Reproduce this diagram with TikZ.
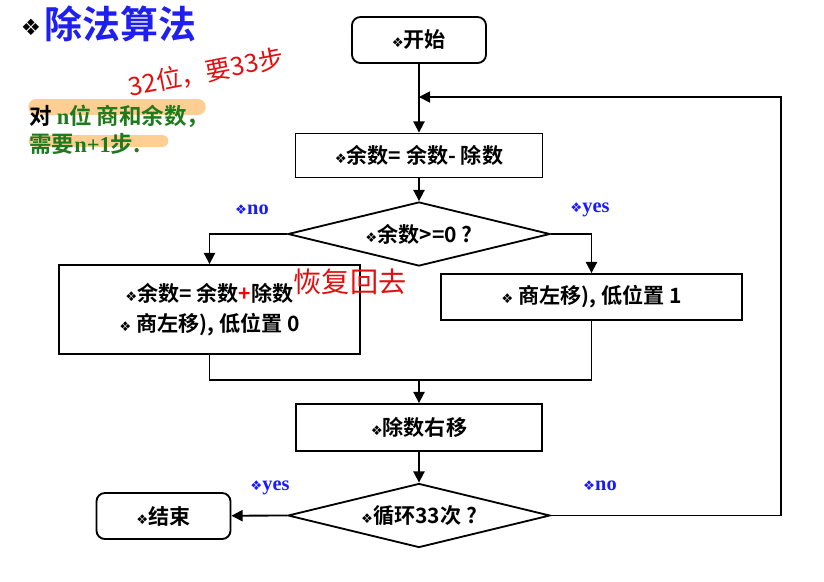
\documentclass[tikz,border=0pt]{standalone}
\usepackage{fontspec}
\usepackage{xcolor}
\usepackage{tikz}
\usetikzlibrary{arrows.meta,positioning,shapes.geometric}
\setmainfont{Liberation Sans}
\newfontfamily\cjk[BoldFont={Noto Sans CJK SC Bold}]{Noto Sans CJK SC}
\newfontfamily\sym{DejaVu Sans}
\newfontfamily\tnr{Liberation Serif}
\definecolor{ttl}{HTML}{1F1FF0}
\definecolor{yn}{HTML}{1A1AFF}
\definecolor{grn}{HTML}{1E7A1E}
\definecolor{hand}{HTML}{E01010}
\definecolor{hilite}{HTML}{FFBE6F}
\newcommand{\orn}{{\sym\fontsize{9.5}{9.5}\selectfont ❖}}
\tikzset{
  txt/.style={font=\cjk\bfseries\fontsize{15}{21}\selectfont,align=center,inner sep=0pt},
  term/.style={txt,draw,rounded corners=6pt,line width=1.3pt,minimum width=3.35cm,minimum height=1.15cm},
  proc/.style={txt,draw,line width=1.3pt,minimum height=1.1cm},
  dec/.style={txt,diamond,aspect=4,draw,line width=1.3pt,minimum width=6.55cm,minimum height=1.6cm},
  arr/.style={-{Triangle[length=2.8mm,width=2.8mm]},line width=1.3pt},
  lin/.style={line width=1.3pt},
  lbl/.style={font=\tnr\bfseries\fontsize{14.5}{14.5}\selectfont,text=yn,inner sep=0pt},
  scrawl/.style={font=\cjk\fontsize{18}{18}\selectfont,text=hand,inner sep=0pt},
  hl/.style={line cap=round,draw=hilite,opacity=0.75},
  note/.style={font=\cjk\bfseries\fontsize{16}{19}\selectfont,inner sep=0pt,anchor=west}}
\begin{document}
\begin{tikzpicture}[x=0.025cm,y=-0.025cm]
\useasboundingbox (0,0) rectangle (824,581);
% title and side note
\node[inner sep=0pt] (mark) at (31,27) {\sym\fontsize{16}{16}\selectfont ❖};
\node[anchor=west,inner sep=0pt,font=\cjk\bfseries\fontsize{27}{27}\selectfont,text=ttl] (title) at (44,24) {除法算法};
\draw[hl,line width=11pt] (36,107) -- (198,107);
\draw[hl,line width=9pt] (35,141) -- (162,141);
\node[note] (note1) at (29,116) {对 \textcolor{grn}{{\tnr n}位 商和余数，}};
\node[note,text=grn] (note2) at (29,144) {需要{\tnr n+1}步.};
\node[scrawl,rotate=11] (hw1) at (206,72) {32位，要33步};
% flow
\node[term] (start) at (419,40) {\orn{}开始};
\node[proc,minimum width=6.175cm] (sub) at (419,155.5) {\orn{}余数= 余数- 除数};
\node[dec] (test) at (419,234) {\orn{}余数>=0 ?};
\node[proc,minimum width=7.525cm,minimum height=2.225cm] (restore) at (209.5,309.5)
  {\orn{}余数= 余数\textcolor{red}{+}除数\\\orn{}\ 商左移), 低位置 0};
\node[proc,minimum width=7.525cm,minimum height=1.15cm] (shiftq) at (591.5,297) {\orn{}\ 商左移), 低位置 1};
\node[proc,minimum width=6.15cm,minimum height=1.175cm] (shiftd) at (419,427.5) {\orn{}除数右移};
\node[dec] (loop) at (419,515.5) {\orn{}循环33次 ?};
\node[term] (finish) at (163.5,516) {\orn{}结束};
\node[scrawl,font=\cjk\fontsize{20}{20}\selectfont] (hw2) at (350,282) {恢复回去};
\node[lbl] (no1) at (252,210) {\orn{}no};
\node[lbl] (yes1) at (590,210) {\orn{}yes};
\node[lbl] (yes2) at (270,488) {\orn{}yes};
\node[lbl] (no2) at (600,486) {\orn{}no};
\coordinate (join) at (419,97);
\coordinate (rt) at (781,97);
\coordinate (mrg) at (419,380);
\draw[arr] (start) -- (sub);
\draw[arr] (sub) -- (test);
\draw[arr] (test.west) -| (restore.north);
\draw[arr] (test.east) -| (shiftq.north);
\draw[lin] (restore.south) |- (mrg) -| (shiftq.south);
\draw[arr] (mrg) -- (shiftd);
\draw[arr] (shiftd) -- (loop);
\draw[arr] (loop.west) -- (finish);
\draw[arr] (loop.east) -| (rt) -- (join);
\end{tikzpicture}
\end{document}
